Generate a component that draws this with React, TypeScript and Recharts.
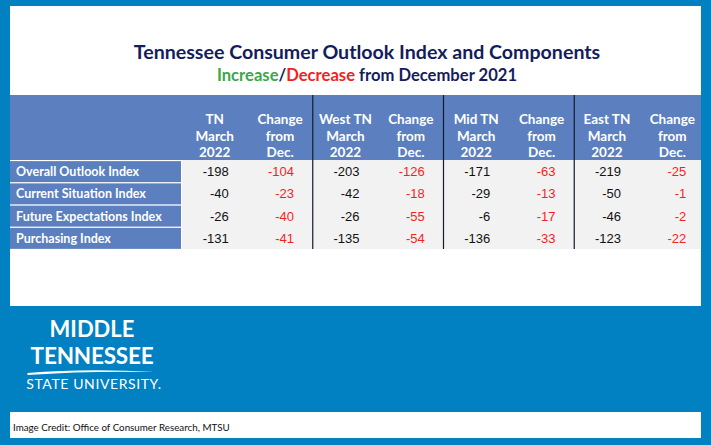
import React from 'react'
import { ScatterChart, Scatter, XAxis, YAxis, ReferenceLine } from 'recharts'

// table rows (y categories) and column headers (x categories)
const rowLabels = [
  'Overall Outlook Index',
  'Current Situation Index',
  'Future Expectations Index',
  'Purchasing Index',
]
const columnHeaders = [
  ['TN', 'March', '2022'],
  ['Change', 'from', 'Dec.'],
  ['West TN', 'March', '2022'],
  ['Change', 'from', 'Dec.'],
  ['Mid TN', 'March', '2022'],
  ['Change', 'from', 'Dec.'],
  ['East TN', 'March', '2022'],
  ['Change', 'from', 'Dec.'],
]

const tnMarch = [-198, -40, -26, -131]
const tnChange = [-104, -23, -40, -41]
const westMarch = [-203, -42, -26, -135]
const westChange = [-126, -18, -55, -54]
const midMarch = [-171, -29, -6, -136]
const midChange = [-63, -13, -17, -33]
const eastMarch = [-219, -50, -46, -123]
const eastChange = [-25, -1, -2, -22]

const columnValues = [tnMarch, tnChange, westMarch, westChange, midMarch, midChange, eastMarch, eastChange]
const regionBreaks = [2, 4, 6]

const cells = columnValues.flatMap((vals, c) =>
  vals.map((v, r) => ({ col: c + 0.5, row: r + 0.5, value: v, change: c % 2 === 1 }))
)

const BLUE_BG = '#0180c2'
const HEADER = '#5b7fbf'
const NAVY = '#141d5c'
const RED = '#f51f1f'
const GREEN = '#3aa847'
const LABEL_FONT = 'Lato, "Open Sans", sans-serif'

const HeaderTick = (props: any) => {
  const { x, y, payload } = props
  const lines = columnHeaders[Math.floor(payload.value)]
  return (
    <text x={x} textAnchor="middle" fill="#fff" fontFamily={LABEL_FONT} fontWeight={700} fontSize={13.5}>
      <tspan x={x} y={y - 36}>{lines[0]}</tspan>
      <tspan x={x} y={y - 19}>{lines[1]}</tspan>
      <tspan x={x} y={y - 3}>{lines[2]}</tspan>
    </text>
  )
}

const RowTick = (props: any) => {
  const { x, y, payload } = props
  const label = rowLabels[Math.floor(payload.value)]
  return (
    <g>
      <rect x={x - 172} y={y - 10} width={171} height={21} fill={HEADER} />
      <text x={x - 166} y={y + 5} fill="#fff" fontFamily={LABEL_FONT} fontWeight={700} fontSize={12.5}>
        {label}
      </text>
    </g>
  )
}

const CellText = (props: any) => {
  const { cx, cy, payload } = props
  return (
    <text
      x={cx + 14}
      y={cy + 5}
      textAnchor="end"
      fill={payload.change ? RED : '#111'}
      fontFamily='"Liberation Sans", Arial, sans-serif'
      fontSize={13}
    >
      {payload.value}
    </text>
  )
}

const box = (left: number, top: number, width: number, height: number, bg: string): React.CSSProperties => ({
  position: 'absolute', left, top, width, height, background: bg,
})

export default function App() {
  return (
    <div style={{ position: 'absolute', left: 0, top: 0, width: 711, height: 445, background: BLUE_BG, overflow: 'hidden' }}>
      <div style={box(10, 6, 691, 300, '#fff')} />
      <div style={box(10, 95, 691, 65, HEADER)} />
      <div style={box(182, 160, 519, 89, '#f2f2f2')} />
      <div style={box(10, 412, 691, 26, '#fff')} />

      <div style={{ position: 'absolute', left: 367, top: 39, transform: 'translateX(-50%)', whiteSpace: 'nowrap', textAlign: 'center', fontFamily: LABEL_FONT, fontWeight: 700, color: NAVY }}>
        <div style={{ fontSize: 19.6, lineHeight: '25px' }}>Tennessee Consumer Outlook Index and Components</div>
        <div style={{ fontSize: 16.6, lineHeight: '23px' }}>
          <span style={{ color: GREEN }}>Increase</span>/<span style={{ color: RED }}>Decrease</span> from December 2021
        </div>
      </div>

      <div style={{ position: 'absolute', left: 92, top: 316, transform: 'translateX(-50%)', textAlign: 'center', color: '#fff', whiteSpace: 'nowrap', fontFamily: LABEL_FONT }}>
        <div style={{ fontWeight: 700, fontSize: 22, lineHeight: '26.5px' }}>MIDDLE</div>
        <div style={{ fontWeight: 700, fontSize: 22.5, lineHeight: '26.5px', letterSpacing: -0.2 }}>TENNESSEE</div>
        <svg width={130} height={6} style={{ display: 'block', margin: '0 auto' }}>
          <path d="M0 4 Q 60 -1 128 3 Q 62 1.5 0 6 Z" fill="#fff" />
        </svg>
        <div style={{ fontSize: 14, lineHeight: '18px', letterSpacing: 0.6, fontWeight: 400, paddingLeft: 4 }}>STATE UNIVERSITY.</div>
      </div>

      <div style={{ position: 'absolute', left: 13, top: 421, fontFamily: LABEL_FONT, fontSize: 9.8, color: '#111', whiteSpace: 'nowrap' }}>
        Image Credit: Office of Consumer Research, MTSU
      </div>

      <div style={{ position: 'absolute', left: 0, top: 0 }}>
        <ScatterChart width={711} height={445} margin={{ top: 95, right: 6, bottom: 196, left: 0 }}>
          <XAxis
            type="number"
            dataKey="col"
            orientation="top"
            domain={[0, 8]}
            ticks={columnHeaders.map((_, i) => i + 0.5)}
            height={65}
            axisLine={false}
            tickLine={false}
            tickSize={0}
            tickMargin={0}
            tick={<HeaderTick />}
            interval={0}
          />
          <YAxis
            type="number"
            dataKey="row"
            domain={[0, 4]}
            reversed
            ticks={rowLabels.map((_, i) => i + 0.5)}
            width={182}
            axisLine={false}
            tickLine={false}
            tickSize={0}
            tickMargin={0}
            tick={<RowTick />}
            interval={0}
          />
          {regionBreaks.map((b) => (
            <ReferenceLine
              key={b}
              segment={[{ x: b, y: -2.92 }, { x: b, y: 4 }]}
              stroke="#161c30"
              strokeWidth={1.2}
              ifOverflow="visible"
            />
          ))}
          <Scatter data={cells} shape={<CellText />} isAnimationActive={false} />
        </ScatterChart>
      </div>
    </div>
  )
}
